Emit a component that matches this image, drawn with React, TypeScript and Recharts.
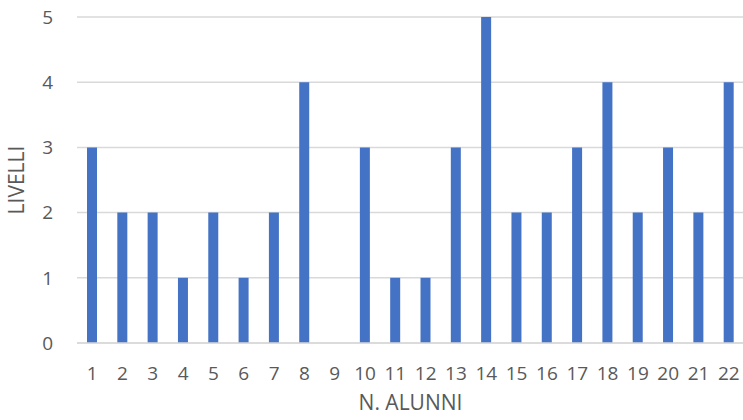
import React from "react";
import { BarChart, Bar, XAxis, YAxis, CartesianGrid, Label } from "recharts";

const categories = ["1","2","3","4","5","6","7","8","9","10","11","12","13","14","15","16","17","18","19","20","21","22"];
const livelli = [3,2,2,1,2,1,2,4,0,3,1,1,3,5,2,2,3,4,2,3,2,4];
const yTicks = [0,1,2,3,4,5];

const data = categories.map((c, i) => ({ name: c, value: livelli[i] }));

const FONT = "'Open Sans', 'Liberation Sans', sans-serif";
const GREY = "#595959";

export default function App() {
  return (
    <div style={{ position: "absolute", left: 0, top: 0, background: "#fff" }}>
      <BarChart
        width={744}
        height={420}
        data={data}
        margin={{ top: 17, right: 0, bottom: 0, left: 0 }}
        barCategoryGap={0}
      >
        <CartesianGrid horizontal vertical={false} stroke="#d9d9d9" strokeWidth={1.5} />
        <XAxis
          dataKey="name"
          height={77}
          axisLine={{ stroke: "#d9d9d9", strokeWidth: 1.5 }}
          tickLine={false}
          tickSize={0}
          tickMargin={24}
          interval={0}
          tick={{ fill: GREY, fontSize: 19, fontFamily: FONT }}
        >
          <Label value="N. ALUNNI" position="insideBottom" offset={10} fill={GREY} fontSize={21} fontFamily={FONT} />
        </XAxis>
        <YAxis
          width={77}
          domain={[0, 5]}
          ticks={yTicks}
          axisLine={false}
          tickLine={false}
          tickSize={0}
          tickMargin={24}
          tick={{ fill: GREY, fontSize: 19, fontFamily: FONT }}
        >
          <Label
            value="LIVELLI"
            angle={-90}
            position="insideLeft"
            offset={17}
            fill={GREY}
            fontSize={21}
            fontFamily={FONT}
            style={{ textAnchor: "middle" }}
          />
        </YAxis>
        <Bar dataKey="value" fill="#4472C4" barSize={10} isAnimationActive={false} />
      </BarChart>
    </div>
  );
}
